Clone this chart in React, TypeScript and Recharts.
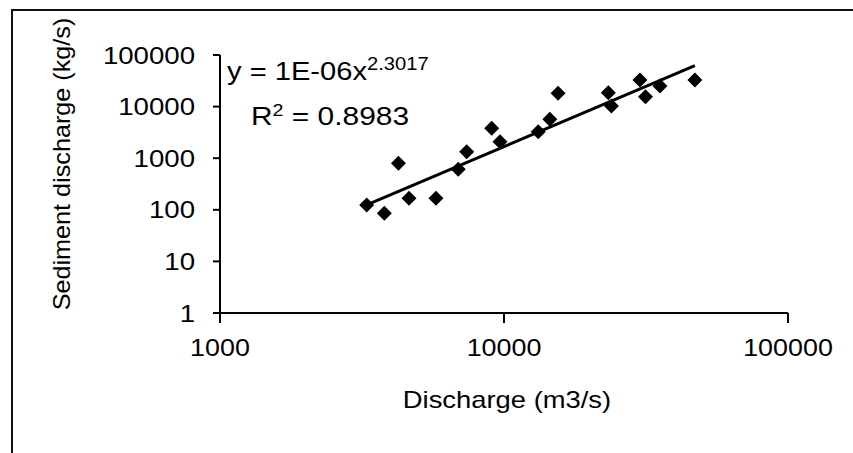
import React from 'react';
import { ReferenceLine, Scatter, ScatterChart, XAxis, YAxis } from 'recharts';

// discharge (m3/s) vs sediment discharge (kg/s)
const discharge = [3285, 3790, 4250, 4630, 5760, 6900, 7390, 9050, 9680, 13200, 14500, 15500, 23300, 23900, 30100, 31500, 35400, 47000];
const sediment = [124, 86, 800, 167, 167, 610, 1340, 3800, 2090, 3260, 5680, 18100, 18600, 10300, 32800, 15600, 25100, 32800];

// power trendline end points
const trendX = [3285, 47000];
const trendY = [125, 62000];

const xTicks = [1000, 10000, 100000];
const yTicks = [1, 10, 100, 1000, 10000, 100000];

const points = discharge.map((x, i) => ({ x, y: sediment[i] }));

const FONT = '"Liberation Sans", Arial, sans-serif';

const Diamond = (props: any) => {
  const { cx, cy } = props;
  const r = 7.5;
  return (
    <polygon
      points={`${cx},${cy - r} ${cx + r},${cy} ${cx},${cy + r} ${cx - r},${cy}`}
      fill="#000"
    />
  );
};

const XTick = (props: any) => {
  const { x, y, payload } = props;
  return (
    <text
      transform={`translate(${x} ${y}) scale(1.12 1)`}
      textAnchor="middle"
      dy="0.71em"
      fontSize={24}
      fontFamily={FONT}
      fill="#000"
    >
      {payload.value}
    </text>
  );
};

const YTick = (props: any) => {
  const { x, y, payload } = props;
  return (
    <text
      transform={`translate(${x} ${y}) scale(1.15 1)`}
      textAnchor="end"
      dy="0.36em"
      fontSize={24}
      fontFamily={FONT}
      fill="#000"
    >
      {payload.value}
    </text>
  );
};

const axisStyle = { stroke: '#000', strokeWidth: 2 };

export default function App() {
  return (
    <div style={{ position: 'absolute', left: 0, top: 0, width: 853, height: 453, background: '#fff', fontFamily: FONT }}>
      <ScatterChart width={853} height={453} margin={{ top: 55, right: 65, bottom: 0, left: 0 }}>
        <XAxis
          type="number"
          dataKey="x"
          scale="log"
          domain={[1000, 100000]}
          ticks={xTicks}
          height={140}
          axisLine={axisStyle}
          tickLine={axisStyle}
          tickSize={10}
          tickMargin={16}
          tick={<XTick />}
          allowDataOverflow
        />
        <YAxis
          type="number"
          dataKey="y"
          scale="log"
          domain={[1, 100000]}
          ticks={yTicks}
          width={220}
          axisLine={axisStyle}
          tickLine={axisStyle}
          tickSize={7}
          tickMargin={18}
          tick={<YTick />}
          allowDataOverflow
        />
        <ReferenceLine
          segment={[
            { x: trendX[0], y: trendY[0] },
            { x: trendX[1], y: trendY[1] }
          ]}
          stroke="#000"
          strokeWidth={3}
        />
        <Scatter data={points} shape={Diamond} fill="#000" isAnimationActive={false} />
      </ScatterChart>

      {/* frame of the scanned figure */}
      <div
        style={{
          position: 'absolute',
          left: 11,
          top: 9,
          width: 842,
          height: 444,
          borderTop: '2px solid #111',
          borderLeft: '2px solid #111',
          pointerEvents: 'none'
        }}
      />

      {/* trendline equation */}
      <div style={{ position: 'absolute', left: 227, top: 56, fontSize: 26, lineHeight: '30px', transform: 'scaleX(1.12)', transformOrigin: 'left', whiteSpace: 'nowrap' }}>
        y = 1E-06x<sup style={{ fontSize: 18, verticalAlign: '0.55em', lineHeight: 0 }}>2.3017</sup>
      </div>
      <div style={{ position: 'absolute', left: 251, top: 101, fontSize: 26, lineHeight: '30px', transform: 'scaleX(1.15)', transformOrigin: 'left', whiteSpace: 'nowrap' }}>
        R<sup style={{ fontSize: 17, verticalAlign: '0.55em', lineHeight: 0 }}>2</sup> = 0.8983
      </div>

      {/* axis titles */}
      <div style={{ position: 'absolute', left: 507, top: 386, fontSize: 24, lineHeight: '28px', transform: 'translateX(-50%) scaleX(1.14)', whiteSpace: 'nowrap' }}>
        Discharge (m3/s)
      </div>
      <div
        style={{
          position: 'absolute',
          left: 62,
          top: 164,
          fontSize: 24,
          lineHeight: '28px',
          transform: 'translate(-50%, -50%) rotate(-90deg) scaleX(1.05)',
          whiteSpace: 'nowrap'
        }}
      >
        Sediment discharge (kg/s)
      </div>
    </div>
  );
}
